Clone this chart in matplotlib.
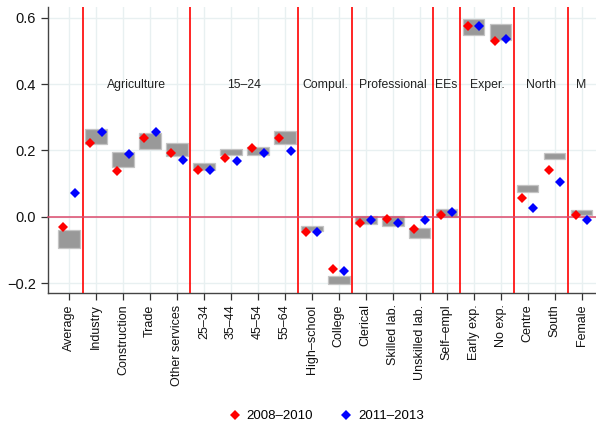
import matplotlib
matplotlib.use("Agg")
import matplotlib.pyplot as plt
import numpy as np

plt.rcParams['font.family'] = ['Liberation Sans', 'DejaVu Sans']

categories = ['Average', 'Industry', 'Construction', 'Trade', 'Other services',
              '25–34', '35–44', '45–54', '55–64', 'High–school', 'College',
              'Clerical', 'Skilled lab.', 'Unskilled lab.', 'Self–empl',
              'Early exp.', 'No exp.', 'Centre', 'South', 'Female']

# reference category of each block and how many dummies it holds
group_names = ['', 'Agriculture', '15–24', 'Compul.', 'Professional', 'EEs',
               'Exper.', 'North', 'M']
group_sizes = [1, 4, 4, 2, 3, 1, 2, 2, 1]

box_low = [-0.093, 0.220, 0.151, 0.206, 0.184, 0.142, 0.185, 0.185, 0.221,
           -0.042, -0.203, -0.023, -0.029, -0.065, -0.001, 0.549, 0.534,
           0.076, 0.175, 0.006]
box_high = [-0.040, 0.264, 0.196, 0.252, 0.224, 0.161, 0.205, 0.210, 0.258,
            -0.027, -0.178, 0.003, 0.003, -0.034, 0.024, 0.598, 0.581,
            0.096, 0.191, 0.019]
est_0810 = [-0.032, 0.224, 0.138, 0.237, 0.192, 0.141, 0.178, 0.209, 0.238,
            -0.047, -0.158, -0.019, -0.008, -0.037, 0.006, 0.576, 0.531,
            0.058, 0.140, 0.006]
est_1113 = [0.073, 0.256, 0.189, 0.256, 0.171, 0.141, 0.167, 0.191, 0.199,
            -0.045, -0.164, -0.009, -0.020, -0.010, 0.013, 0.576, 0.538,
            0.026, 0.105, -0.010]

x = np.arange(len(categories))
off = 0.21

fig = plt.figure(figsize=(5.96, 4.23), dpi=100)
ax = fig.add_axes([48.3 / 596, 129.7 / 423, 554 / 596, 286.6 / 423])

ax.bar(x, np.array(box_high) - np.array(box_low), bottom=box_low, width=0.8,
       color='#999999', edgecolor='#c4c4c4', linewidth=0.9, zorder=2)

# block separators and labels
bounds = np.cumsum(group_sizes)
for b in bounds[:-1]:
    ax.axvline(b - 0.5, color='#ff0000', lw=1.2, zorder=3)
start = 0
for name, n in zip(group_names, group_sizes):
    if name:
        ax.text(start + (n - 1) / 2, 0.397, name, ha='center', va='center',
                fontsize=8.8, color='#222222', zorder=4)
    start += n

ax.axhline(0, color='#dc4a6c', lw=1.1, zorder=3, clip_on=False)

ax.plot(x - off, est_0810, 'D', color='#ff0000', ms=5.4, mew=0,
        label='2008–2010', zorder=5)
ax.plot(x + off, est_1113, 'D', color='#0000ff', ms=5.4, mew=0,
        label='2011–2013', zorder=5)

ax.set_xlim(-0.77, 19.77)
ax.set_ylim(-0.231, 0.634)
ax.set_xticks(x)
ax.set_xticklabels(categories, rotation=90, fontsize=9)
ax.set_yticks([-0.2, 0.0, 0.2, 0.4, 0.6])
ax.set_yticklabels(['−0.2', '0.0', '0.2', '0.4', '0.6'], fontsize=10.5)
ax.tick_params(colors='#333333', length=5, width=0.9, labelcolor='#111111')
ax.tick_params(axis='y', pad=4)
ax.tick_params(axis='x', pad=3)

ax.grid(True, color='#e8f0f1', lw=1.0, zorder=0)
ax.set_axisbelow(True)
for s in ['top', 'right']:
    ax.spines[s].set_visible(False)
for s in ['left', 'bottom']:
    ax.spines[s].set_color('#444444')
    ax.spines[s].set_linewidth(1.0)

fig.legend(loc='center', bbox_to_anchor=(326 / 596, 1 - 416 / 423), ncol=2,
           frameon=False, fontsize=9.5, handletextpad=0.4, columnspacing=2.0,
           handlelength=1.0)

fig.savefig('out.png', dpi=100)
